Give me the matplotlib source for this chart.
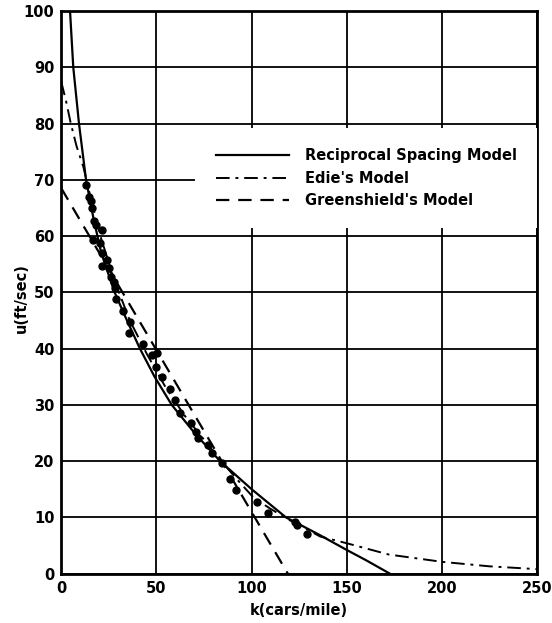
import matplotlib.pyplot as plt

# measured data points (k cars/mile, u ft/sec)
k_obs = [13.0, 14.8, 15.4, 16.0, 17.3, 18.2, 16.8, 20.3, 21.2, 21.2, 23.8, 21.2,
         25.2, 25.9, 27.7, 28.2, 28.7, 32.6, 36.1, 35.6, 43.0, 47.5, 50.1, 49.7,
         52.7, 57.1, 59.7, 62.3, 68.0, 70.7, 71.9, 77.2, 79.0, 84.2, 88.6, 91.8,
         102.9, 108.7, 122.7, 123.6, 128.9]
u_obs = [69.0, 67.0, 66.3, 65.0, 62.7, 62.0, 59.3, 58.8, 61.0, 56.9, 55.7, 54.7,
         54.3, 52.8, 51.9, 50.7, 48.9, 46.6, 44.8, 42.7, 40.8, 38.9, 39.2, 36.8,
         34.9, 32.9, 30.9, 28.5, 26.8, 25.2, 24.1, 22.9, 21.4, 19.6, 16.8, 14.8,
         12.8, 10.8, 9.1, 8.6, 7.0]

# model curves
k_recip = [4.6, 6.3, 9.3, 13.0, 17.0, 21.0, 28.0, 34.5, 41.3, 49.0, 58.0, 70.0,
           83.4, 100.0, 118.0, 135.0, 150.0, 160.0, 172.6]
u_recip = [100.0, 90.0, 80.0, 70.0, 63.0, 57.0, 50.0, 45.0, 40.0, 35.0, 30.0, 25.0,
           20.0, 15.0, 10.0, 7.0, 4.2, 2.4, 0.0]

k_edie = [0.0, 2.5, 5.0, 8.0, 11.6, 16.0, 21.0, 28.0, 36.0, 45.0, 55.0, 65.0,
          75.0, 84.0, 93.0, 101.0, 110.0, 120.0, 136.0, 150.0, 172.0, 200.0, 225.0, 250.0]
u_edie = [87.4, 84.0, 80.0, 76.0, 72.3, 66.0, 59.5, 52.0, 45.0, 39.0, 33.0, 28.0,
          23.8, 20.0, 16.5, 13.5, 11.5, 9.5, 6.6, 5.4, 3.4, 2.1, 1.3, 0.8]

k_green = [0.0, 119.0]
u_green = [68.5, 0.0]

x_ticks = [0, 50, 100, 150, 200, 250]
y_ticks = [0, 10, 20, 30, 40, 50, 60, 70, 80, 90, 100]

plt.rcParams['font.family'] = ['DejaVu Sans']
plt.rcParams['font.weight'] = 'bold'
plt.rcParams['axes.labelweight'] = 'bold'

fig = plt.figure(figsize=(5.52, 6.23), dpi=100)
ax = fig.add_axes([0.111, 0.0792, 0.8623, 0.9032])

ax.plot(k_recip, u_recip, color='black', lw=1.6, label='Reciprocal Spacing Model')
ax.plot(k_edie, u_edie, color='black', lw=1.4, dashes=(7, 3, 1.5, 3), label="Edie's Model")
ax.plot(k_green, u_green, color='black', lw=1.6, dashes=(6, 4), label="Greenshield's Model")
ax.plot(k_obs, u_obs, 'o', color='black', ms=5, zorder=5)

ax.set_xlim(0, 250)
ax.set_ylim(0, 100)
ax.set_xticks(x_ticks)
ax.set_yticks(y_ticks)
ax.tick_params(length=0, labelsize=10.5, pad=5)
ax.grid(True, color='black', lw=1.3)
ax.set_axisbelow(True)
for s in ax.spines.values():
    s.set_linewidth(2)

ax.set_xlabel('k(cars/mile)', fontsize=10.5)
ax.set_ylabel('u(ft/sec)', fontsize=10.5)
ax.xaxis.set_label_coords(0.5, -0.052)
ax.yaxis.set_label_coords(-0.068, 0.49)

leg = ax.legend(loc='upper right', bbox_to_anchor=(1.0, 0.792), borderaxespad=0,
                prop={'size': 10.5, 'weight': 'bold'}, handlelength=5.0,
                handletextpad=1.1, labelspacing=0.5, frameon=True,
                fancybox=False, borderpad=1.4)
leg.get_frame().set_edgecolor('none')
leg.get_frame().set_facecolor('white')
leg.get_frame().set_alpha(1)

fig.savefig('out.png', dpi=100)
